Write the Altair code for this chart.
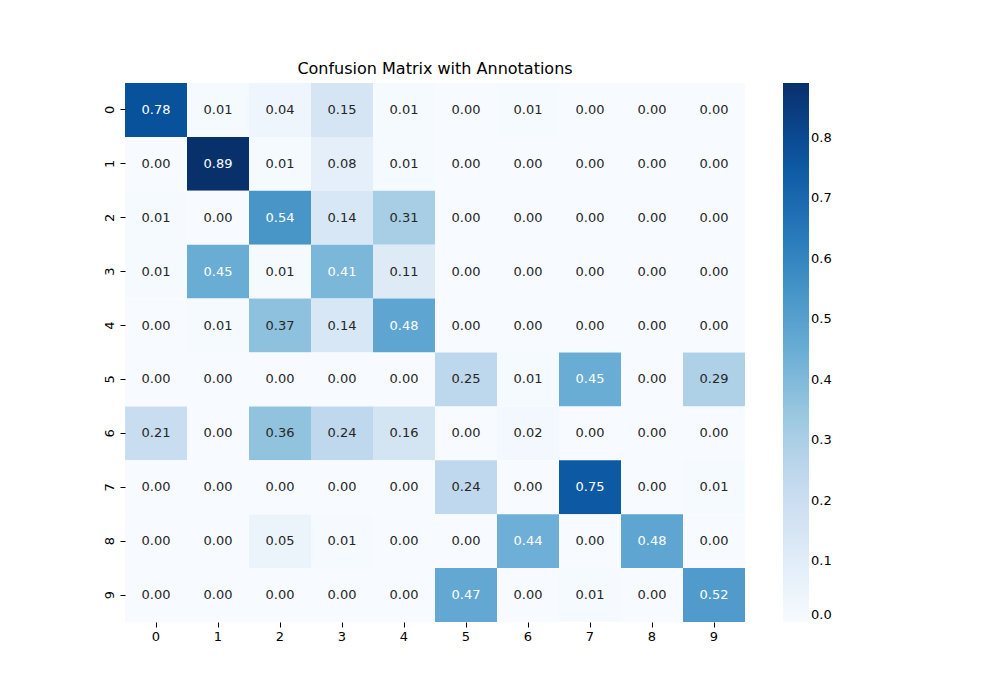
import altair as alt
import pandas as pd

labels = list(range(10))
matrix = [
    [0.78, 0.01, 0.04, 0.15, 0.01, 0.00, 0.01, 0.00, 0.00, 0.00],
    [0.00, 0.89, 0.01, 0.08, 0.01, 0.00, 0.00, 0.00, 0.00, 0.00],
    [0.01, 0.00, 0.54, 0.14, 0.31, 0.00, 0.00, 0.00, 0.00, 0.00],
    [0.01, 0.45, 0.01, 0.41, 0.11, 0.00, 0.00, 0.00, 0.00, 0.00],
    [0.00, 0.01, 0.37, 0.14, 0.48, 0.00, 0.00, 0.00, 0.00, 0.00],
    [0.00, 0.00, 0.00, 0.00, 0.00, 0.25, 0.01, 0.45, 0.00, 0.29],
    [0.21, 0.00, 0.36, 0.24, 0.16, 0.00, 0.02, 0.00, 0.00, 0.00],
    [0.00, 0.00, 0.00, 0.00, 0.00, 0.24, 0.00, 0.75, 0.00, 0.01],
    [0.00, 0.00, 0.05, 0.01, 0.00, 0.00, 0.44, 0.00, 0.48, 0.00],
    [0.00, 0.00, 0.00, 0.00, 0.00, 0.47, 0.00, 0.01, 0.00, 0.52],
]
blues = ["#f7fbff", "#deebf7", "#c6dbef", "#9ecae1", "#6baed6",
         "#4292c6", "#2171b5", "#08519c", "#08306b"]

rows = []
for i, r in enumerate(matrix):
    for j, v in enumerate(r):
        rows.append({"true": i, "pred": j, "v": v})
df = pd.DataFrame(rows)

font = "DejaVu Sans"
base = alt.Chart(df).encode(
    x=alt.X("pred:O", sort=labels, title=None,
            axis=alt.Axis(labelAngle=0, domain=False, labelFont=font, labelFontSize=13,
                          labelColor="black", tickColor="black", tickSize=5, labelPadding=3)),
    y=alt.Y("true:O", sort=labels, title=None,
            axis=alt.Axis(labelAngle=270, domain=False, labelFont=font, labelFontSize=13,
                          labelColor="black", tickColor="black", tickSize=5,
                          labelAlign="center", labelBaseline="bottom", labelPadding=4)),
)

cells = base.mark_rect().encode(
    color=alt.Color("v:Q", title=None,
                    scale=alt.Scale(domain=[0, 0.89], range=blues, nice=False, zero=True),
                    legend=alt.Legend(gradientLength=539, gradientThickness=26,
                                      values=[0, 0.1, 0.2, 0.3, 0.4, 0.5, 0.6, 0.7, 0.8],
                                      format=".1f", labelFont=font, labelFontSize=13,
                                      labelColor="black", offset=38,
                                      gradientStrokeWidth=0))
)
text = base.mark_text(font=font, fontSize=13).encode(
    text=alt.Text("v:Q", format=".2f"),
    color=alt.condition("datum.v > 0.4", alt.value("white"), alt.value("#262626")),
)

chart = (cells + text).properties(
    width=620, height=539,
    title=alt.Title("Confusion Matrix with Annotations", font=font, fontSize=16,
                    fontWeight="normal", color="black", offset=6),
    autosize="none",
    padding={"left": 117, "top": 75, "right": 230, "bottom": 60},
).configure_view(stroke=None).configure_scale(bandPaddingInner=0, bandPaddingOuter=0)

chart.save("out.html", embed_options={"renderer": "svg", "actions": False})
